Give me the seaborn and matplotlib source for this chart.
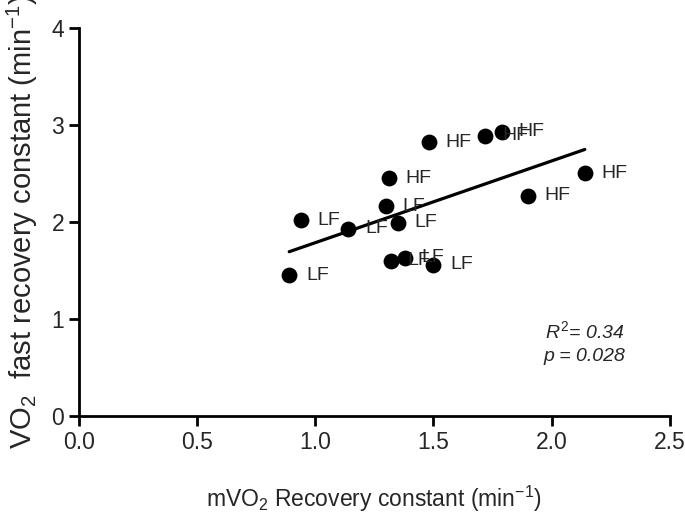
import numpy as np
import pandas as pd
import matplotlib
matplotlib.use("Agg")
import matplotlib.pyplot as plt
import seaborn as sns

# values
mvo2 = [0.89, 0.94, 1.14, 1.30, 1.35, 1.32, 1.38, 1.50,
        1.31, 1.48, 1.72, 1.79, 1.90, 2.14]
vo2 = [1.45, 2.02, 1.93, 2.16, 1.99, 1.60, 1.63, 1.56,
       2.45, 2.82, 2.89, 2.93, 2.27, 2.50]
group = ["LF"] * 8 + ["HF"] * 6

x_ticks = [0.0, 0.5, 1.0, 1.5, 2.0, 2.5]
y_ticks = [0, 1, 2, 3, 4]

df = pd.DataFrame({"mvo2": mvo2, "vo2": vo2, "group": group})

sns.set_style("ticks")
plt.rcParams['font.family'] = ['Liberation Sans', 'DejaVu Sans']
plt.rcParams['mathtext.fontset'] = 'custom'
plt.rcParams['mathtext.rm'] = 'Liberation Sans'
plt.rcParams['mathtext.it'] = 'Liberation Sans:italic'

fig = plt.figure(figsize=(6.85, 5.26), dpi=100)
ax = fig.add_axes([0.115, 0.209, 0.863, 0.738])

sns.regplot(data=df, x="mvo2", y="vo2", scatter=False, ci=None,
            color="black", line_kws={"linewidth": 2.3}, ax=ax)
sns.scatterplot(data=df, x="mvo2", y="vo2", color="black", s=130,
                edgecolor="black", linewidth=0, ax=ax, zorder=3)

for xi, yi, g in zip(mvo2, vo2, group):
    ax.annotate(g, (xi, yi), xytext=(12, 0), textcoords="offset points",
                ha="left", va="center", fontsize=14)

ax.text(2.14, 0.87, "$R^2$= 0.34", ha="center", va="center",
        fontsize=14, style="italic")
ax.text(2.14, 0.61, "p = 0.028", ha="center", va="center",
        fontsize=14, style="italic")

ax.set_xlim(0, 2.5)
ax.set_ylim(0, 4)
ax.set_xticks(x_ticks)
ax.set_xticklabels([f"{t:.1f}" for t in x_ticks])
ax.set_yticks(y_ticks)
ax.tick_params(labelsize=16.5, width=2, length=7, color="black")
for side in ["left", "bottom"]:
    ax.spines[side].set_linewidth(2)
    ax.spines[side].set_color("black")
sns.despine(ax=ax)

ax.set_xlabel(r"mVO$_2$ Recovery constant (min$^{-1}$)", fontsize=16.5, labelpad=22)
ax.set_ylabel(r"VO$_2$  fast recovery constant (min$^{-1}$)", fontsize=21, labelpad=8)

fig.savefig("out.png", dpi=100)
